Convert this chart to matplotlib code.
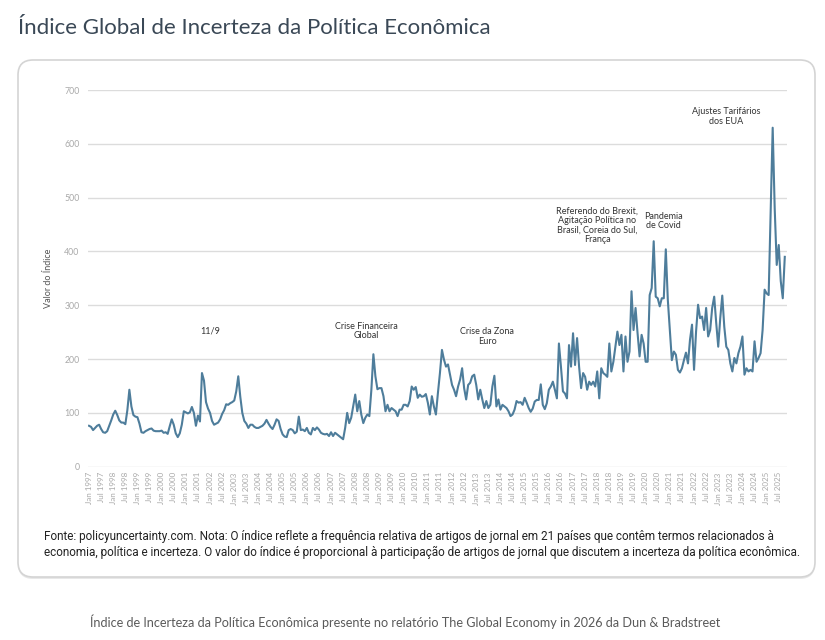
import matplotlib
matplotlib.use("Agg")
import matplotlib.pyplot as plt
from matplotlib.patches import FancyBboxPatch
from matplotlib import font_manager

# monthly index values, Jan 1997 .. Oct 2025
values_1997_2006 = [
    76, 74, 68, 72, 76, 78, 70, 64, 63, 66, 76, 86,
    97, 104, 96, 86, 82, 82, 79, 105, 143, 112, 96, 93,
    92, 80, 64, 63, 66, 68, 70, 71, 67, 66, 66, 66,
    67, 63, 64, 61, 75, 88, 78, 62, 55, 62, 78, 103,
    101, 99, 101, 111, 100, 76, 95, 84, 174, 160, 120, 108,
    100, 85, 78, 80, 82, 88, 98, 105, 116, 115, 118, 120,
    123, 140, 168, 130, 100, 85, 80, 72, 78, 78, 74, 72,
    72, 74, 76, 80, 87, 80, 74, 70, 78, 88, 85, 70,
    60, 56, 55, 68, 70, 68, 62, 65, 93, 68, 69, 66,
    72, 63, 60, 72, 68, 73, 69, 63, 61, 60, 61, 57,
]
values_2007_2016 = [
    64, 57, 63, 60, 57, 54, 51, 72, 100, 81, 91, 112,
    134, 103, 122, 97, 81, 91, 97, 94, 143, 209, 168, 144,
    146, 146, 131, 103, 115, 103, 109, 106, 103, 94, 106, 106,
    115, 115, 112, 122, 149, 143, 148, 128, 134, 130, 131, 135,
    119, 97, 131, 112, 97, 137, 174, 217, 199, 186, 190, 171,
    152, 143, 131, 149, 162, 183, 146, 125, 152, 156, 168, 171,
    152, 125, 143, 125, 109, 122, 109, 115, 149, 169, 112, 125,
    106, 115, 112, 109, 103, 94, 97, 106, 122, 119, 120, 115,
    128, 119, 109, 102, 108, 121, 124, 124, 153, 115, 107, 118,
    143, 149, 158, 143, 127, 229, 186, 140, 136, 127, 226, 186,
]
values_2017_2025 = [
    248, 189, 239, 186, 146, 174, 167, 143, 158, 152, 158, 149,
    177, 127, 183, 174, 171, 167, 229, 177, 195, 223, 251, 226,
    245, 177, 242, 195, 214, 326, 254, 295, 248, 205, 245, 229,
    195, 195, 319, 332, 419, 316, 313, 298, 313, 313, 404, 310,
    254, 198, 214, 208, 180, 175, 183, 198, 212, 192, 236, 264,
    180, 251, 301, 276, 279, 254, 295, 242, 254, 295, 316, 267,
    223, 276, 318, 260, 223, 217, 192, 177, 202, 192, 211, 223,
    242, 171, 183, 177, 180, 177, 233, 195, 202, 211, 254, 329,
    322, 319, 475, 630, 480, 375, 412, 345, 313, 390,
]
values = values_1997_2006 + values_2007_2016 + values_2017_2025
months = list(range(len(values)))

tick_pos = list(range(0, 343, 6))
tick_labels = [("Jan " if p % 12 == 0 else "Jul ") + str(1997 + p // 12) for p in tick_pos]

events = [
    ("11/9", 60, 252),
    ("Crise Financeira\nGlobal", 137.5, 252),
    ("Crise da Zona\nEuro", 197.5, 242),
    ("Referendo do Brexit,\nAgitação Política no\nBrasil, Coreia do Sul,\nFrança", 252, 448),
    ("Pandemia\nde Covid", 285, 457),
    ("Ajustes Tarifários\ndos EUA", 316, 651),
]

title = "Índice Global de Incerteza da Política Econômica"
note = ("Fonte: policyuncertainty.com. Nota: O índice reflete a frequência relativa de artigos de jornal em 21 países que contêm termos relacionados à\n"
        "economia, política e incerteza. O valor do índice é proporcional à participação de artigos de jornal que discutem a incerteza da política econômica.")
caption = "Índice de Incerteza da Política Econômica presente no relatório The Global Economy in 2026 da Dun & Bradstreet"

names = {f.name for f in font_manager.fontManager.ttflist}
narrow = "Liberation Sans Narrow" if "Liberation Sans Narrow" in names else "Roboto"

plt.rcParams["font.family"] = ["Lato", "DejaVu Sans"]

fig = plt.figure(figsize=(8.25, 6.4), dpi=100)

# rounded card with a faint shadow
shadow = FancyBboxPatch((0.18, 0.61), 7.97, 5.17, boxstyle="round,pad=0,rounding_size=0.15",
                        transform=fig.dpi_scale_trans, facecolor="#e8e8e8", edgecolor="none", zorder=-2)
card = FancyBboxPatch((0.18, 0.63), 7.97, 5.17, boxstyle="round,pad=0,rounding_size=0.15",
                      transform=fig.dpi_scale_trans, facecolor="white", edgecolor="#d4d4d4",
                      linewidth=1.2, zorder=-1)
fig.patches.extend([shadow, card])

ax = fig.add_axes([0.1067, 0.2708, 0.847, 0.5885])
ax.set_facecolor("none")
ax.plot(months, values, color="#4e7d9b", linewidth=1.5, zorder=3)

ax.set_ylim(0, 700)
ax.set_xlim(-0.5, 346)
ax.set_yticks(range(0, 701, 100))
ax.set_xticks(tick_pos)
ax.set_xticklabels(tick_labels, rotation=90)
ax.grid(axis="y", color="#dcdcdc", linewidth=1.0)
ax.set_axisbelow(True)
for s in ax.spines.values():
    s.set_visible(False)
ax.tick_params(axis="both", length=0, colors="#a9a9a9", labelsize=5.8)
ax.tick_params(axis="y", pad=6, labelsize=6.3)
ax.tick_params(axis="x", pad=4)
ax.set_ylabel("Valor do Índice", fontsize=6.5, color="#555555", labelpad=8)

for label, x, y in events:
    ax.text(x, y, label, ha="center", va="center", fontsize=6.5, color="#333333",
            linespacing=1.05, zorder=4)

fig.text(0.022, 0.956, title, fontsize=16, color="#3a4856", ha="left", va="center")
fig.text(0.053, 0.149, note, fontsize=8.45, color="#222222", ha="left", va="center",
         linespacing=1.3, family=[narrow, "DejaVu Sans"])
fig.text(0.109, 0.029, caption, fontsize=9.1, color="#5a5a5a", ha="left", va="center")

fig.savefig("out.png", dpi=100)
